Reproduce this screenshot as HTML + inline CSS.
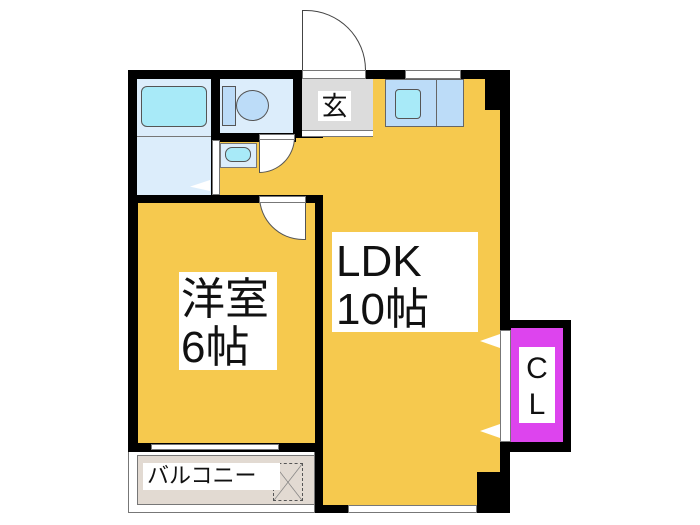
<!DOCTYPE html>
<html><head><meta charset="utf-8"><style>
body{margin:0;width:700px;height:525px;background:#fff;position:relative;overflow:hidden;font-family:"Liberation Sans","Noto Sans CJK JP",sans-serif}
div{position:absolute;box-sizing:border-box}
.k{background:#000}
.y{background:#f6c94e}
.b{background:#dcedfb}
.w{background:#fff}
.t{background:#fff;color:#111;line-height:1}
</style></head><body>
<!-- outer black -->
<div class="k" style="left:128px;top:70px;width:382px;height:133px"></div>
<div class="k" style="left:128px;top:195px;width:10px;height:258px"></div>
<div class="k" style="left:315px;top:195px;width:195px;height:318px"></div>
<!-- LDK -->
<div class="y" style="left:323px;top:79px;width:177px;height:426px"></div>
<div class="y" style="left:220px;top:142px;width:110px;height:53px"></div>
<div class="y" style="left:296px;top:138px;width:90px;height:10px"></div>
<div class="y" style="left:380px;top:79px;width:110px;height:64px"></div>
<div class="k" style="left:485px;top:79px;width:15px;height:31px"></div>
<div class="k" style="left:477px;top:472px;width:23px;height:33px"></div>
<!-- bath -->
<div class="b" style="left:137px;top:79px;width:74px;height:58px;border-bottom:1px solid #777"></div>
<div style="left:141px;top:86px;width:66px;height:41px;background:#a8eaf8;border:1px solid #555;border-radius:6px"></div>
<div class="b" style="left:137px;top:137px;width:74px;height:58px"></div>
<div class="w" style="left:212px;top:140px;width:8px;height:55px;border:1px solid #777"></div>
<div style="left:190px;top:180px;width:20px;height:11px;background:#fff;clip-path:polygon(100% 0,0 60%,100% 100%);"></div>
<!-- toilet -->
<div class="b" style="left:220px;top:79px;width:73px;height:54px"></div>
<div style="left:222px;top:86px;width:14px;height:40px;background:#bcdcf8;border:1px solid #555"></div>
<div style="left:236px;top:90px;width:33px;height:31px;background:#bcdcf8;border:1px solid #555;border-radius:50%"></div>
<!-- washbasin -->
<div class="b" style="left:220px;top:143px;width:37px;height:25px;border:1px solid #777"></div>
<div style="left:225px;top:147px;width:26px;height:15px;background:#a8eaf8;border:1px solid #555;border-radius:7px"></div>
<!-- door near basin -->
<div class="w" style="left:259px;top:134px;width:36px;height:39px;border:1px solid #555;border-radius:0 0 36px 0;border-top:none"></div>
<div class="w" style="left:259px;top:134px;width:36px;height:6px;border:1px solid #777"></div>
<!-- genkan -->
<div style="left:302px;top:79px;width:71px;height:57px;background:#dcdcdc"></div>
<div class="w" style="left:302px;top:130px;width:71px;height:7px;border-top:1px solid #777;border-bottom:1px solid #777"></div>
<div class="t" style="left:318px;top:91px;width:33px;height:30px;font-size:26px;text-align:center;padding-top:2px">玄</div>
<div class="w" style="left:302px;top:70px;width:64px;height:9px;border:1px solid #777"></div>
<div class="w" style="left:302px;top:10px;width:64px;height:60px;border:1px solid #444;border-radius:0 64px 0 0;border-bottom:none"></div>
<!-- kitchen -->
<div style="left:385px;top:79px;width:79px;height:48px;background:#bcdcf8;border:1px solid #666"></div>
<div style="left:395px;top:89px;width:26px;height:30px;background:#a8eaf8;border:1px solid #555;border-radius:4px"></div>
<div style="left:436px;top:79px;width:1px;height:48px;background:#666"></div>
<div class="w" style="left:405px;top:70px;width:56px;height:9px;border:1px solid #777"></div>
<!-- 洋室 -->
<div class="y" style="left:138px;top:203px;width:177px;height:240px"></div>
<div class="w" style="left:259px;top:196px;width:47px;height:44px;border:1px solid #555;border-radius:0 0 0 46px;border-top:none"></div>
<div class="w" style="left:259px;top:196px;width:47px;height:7px;border:1px solid #777"></div>
<div class="t" style="left:179px;top:272px;width:98px;height:98px;font-size:44px;padding:4px 0 0 2px;line-height:48px">洋室<br>6帖</div>
<div class="k" style="left:128px;top:443px;width:195px;height:9px"></div>
<div class="w" style="left:151px;top:444px;width:128px;height:6px;border:1px solid #777"></div>
<!-- balcony -->
<div class="w" style="left:128px;top:452px;width:187px;height:61px;border:1px solid #777;border-top:none"></div>
<div style="left:137px;top:455px;width:178px;height:50px;background:#e2dad2;border:1px solid #777"></div>
<div style="left:273px;top:463px;width:30px;height:38px;border:1px dashed #555;background:linear-gradient(to bottom right,transparent 49%,#777 50%,transparent 52%),linear-gradient(to bottom left,transparent 49%,#777 50%,transparent 52%)"></div>
<div class="t" style="left:143px;top:463px;width:137px;height:27px;font-size:22px;padding:2px 0 0 4px">バルコニー</div>
<!-- bottom window -->
<div class="w" style="left:348px;top:505px;width:129px;height:8px;border:1px solid #777"></div>
<!-- LDK label -->
<div class="t" style="left:332px;top:232px;width:146px;height:100px;font-size:44px;padding:6px 0 0 4px;line-height:48px">LDK<br>10帖</div>
<!-- CL -->
<div class="k" style="left:500px;top:320px;width:71px;height:132px"></div>
<div class="w" style="left:500px;top:330px;width:11px;height:112px;border:1px solid #777"></div>
<div style="left:511px;top:328px;width:52px;height:114px;background:#dd44ee"></div>
<div class="t" style="left:519px;top:347px;width:36px;height:76px;font-size:30px;text-align:center;line-height:36px;padding-top:4px">C<br>L</div>
<div style="left:480px;top:334px;width:20px;height:14px;background:#fff;clip-path:polygon(100% 0,0 50%,100% 100%)"></div>
<div style="left:480px;top:424px;width:20px;height:14px;background:#fff;clip-path:polygon(100% 0,0 50%,100% 100%)"></div>
</body></html>
